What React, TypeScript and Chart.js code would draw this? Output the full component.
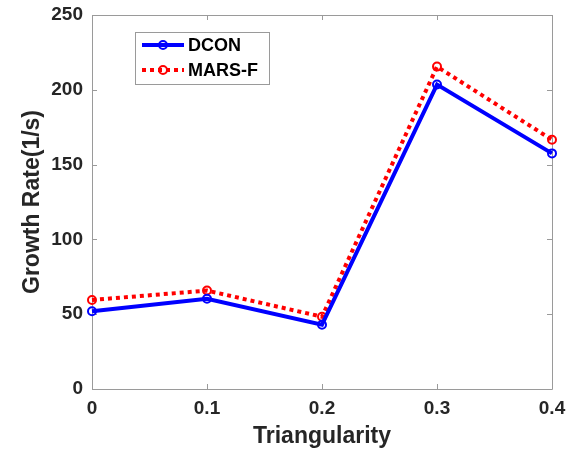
import React, { useEffect, useRef } from "react";
import { Chart, registerables } from "chart.js";

Chart.register(...registerables);

const triangularity = [0, 0.1, 0.2, 0.3, 0.4];
const dconValues = [52, 60.3, 43, 203.5, 157.5];
const marsfValues = [59.5, 65.8, 48.3, 215.5, 166.6];
const xTicks = [0, 0.1, 0.2, 0.3, 0.4];
const yTicks = [0, 50, 100, 150, 200, 250];
const seriesNames = ["DCON", "MARS-F"];

const FONT = '"Liberation Sans", Arial, Helvetica, sans-serif';
const FRAME = "#9a9a9a";
const TEXT = "#262626";

const framePlugin = {
  id: "frame",
  beforeDatasetsDraw(chart: any) {
    const { ctx, chartArea } = chart;
    const { left, right, top, bottom } = chartArea;
    const xs = chart.scales.x;
    const ys = chart.scales.y;
    ctx.save();
    ctx.strokeStyle = FRAME;
    ctx.lineWidth = 1;
    ctx.beginPath();
    ctx.rect(Math.round(left) + 0.5, Math.round(top) + 0.5, Math.round(right - left), Math.round(bottom - top));
    ctx.stroke();
    const tl = 5;
    ctx.beginPath();
    for (const v of xTicks) {
      const px = Math.round(xs.getPixelForValue(v)) + 0.5;
      ctx.moveTo(px, bottom);
      ctx.lineTo(px, bottom - tl);
      ctx.moveTo(px, top);
      ctx.lineTo(px, top + tl);
    }
    for (const v of yTicks) {
      const py = Math.round(ys.getPixelForValue(v)) + 0.5;
      ctx.moveTo(left, py);
      ctx.lineTo(left + tl, py);
      ctx.moveTo(right, py);
      ctx.lineTo(right - tl, py);
    }
    ctx.stroke();
    ctx.restore();
  },
};

const legendPlugin = {
  id: "boxLegend",
  afterDraw(chart: any) {
    const { ctx } = chart;
    ctx.save();
    const bx = 135.5, by = 32.5, bw = 134, bh = 52;
    ctx.fillStyle = "#ffffff";
    ctx.fillRect(bx, by, bw, bh);
    ctx.strokeStyle = FRAME;
    ctx.lineWidth = 1;
    ctx.strokeRect(bx, by, bw, bh);
    const rows = [
      { y: 45, color: "#0000ff", dash: [] as number[], name: seriesNames[0] },
      { y: 70, color: "#ff0000", dash: [4, 4], name: seriesNames[1] },
    ];
    for (const r of rows) {
      ctx.strokeStyle = r.color;
      ctx.lineWidth = 4;
      ctx.lineCap = "butt";
      ctx.setLineDash(r.dash);
      ctx.beginPath();
      ctx.moveTo(142, r.y);
      ctx.lineTo(184, r.y);
      ctx.stroke();
      ctx.setLineDash([]);
      ctx.lineWidth = 2;
      ctx.beginPath();
      ctx.arc(163, r.y, 4, 0, Math.PI * 2);
      ctx.stroke();
      ctx.fillStyle = "#000000";
      ctx.font = `bold 18px ${FONT}`;
      ctx.textBaseline = "middle";
      ctx.textAlign = "left";
      ctx.fillText(r.name, 188, r.y + 1);
    }
    ctx.restore();
  },
};

export default function App() {
  const ref = useRef<HTMLCanvasElement>(null);
  useEffect(() => {
    document.body.style.margin = "0";
    const canvas = ref.current;
    if (!canvas) return;
    const chart = new Chart(canvas, {
      type: "line",
      data: {
        datasets: [
          {
            label: seriesNames[0],
            data: triangularity.map((x, i) => ({ x, y: dconValues[i] })),
            borderColor: "#0000ff",
            borderWidth: 4,
            pointRadius: 4,
            pointBorderWidth: 2,
            pointBorderColor: "#0000ff",
            pointBackgroundColor: "rgba(0,0,0,0)",
            tension: 0,
            clip: false as any,
          },
          {
            label: seriesNames[1],
            data: triangularity.map((x, i) => ({ x, y: marsfValues[i] })),
            borderColor: "#ff0000",
            borderWidth: 4,
            borderDash: [4, 4],
            borderCapStyle: "butt",
            pointRadius: 4,
            pointBorderWidth: 2,
            pointBorderColor: "#ff0000",
            pointBackgroundColor: "rgba(0,0,0,0)",
            tension: 0,
            clip: false as any,
          },
        ],
      },
      options: {
        responsive: false,
        animation: false,
        layout: { padding: { top: 15, right: 23, left: 0, bottom: 0 } },
        plugins: { legend: { display: false }, tooltip: { enabled: false } },
        scales: {
          x: {
            type: "linear",
            min: 0,
            max: 0.4,
            afterFit: (s: any) => { s.height = 62; s.paddingLeft = 0; s.paddingRight = 0; },
            afterBuildTicks: (s: any) => { s.ticks = xTicks.map((v) => ({ value: v })); },
            grid: { display: false, drawTicks: false },
            border: { display: false },
            ticks: {
              padding: 8,
              color: TEXT,
              font: { family: FONT, size: 19, weight: "bold" },
              callback: (v: any) => String(Number(v)),
              maxRotation: 0,
            },
            title: {
              display: true,
              text: "Triangularity",
              color: TEXT,
              font: { family: FONT, size: 23, weight: "bold" },
              padding: { top: 0, bottom: 1 },
            },
          },
          y: {
            type: "linear",
            min: 0,
            max: 250,
            afterFit: (s: any) => { s.width = 92; s.paddingTop = 0; s.paddingBottom = 0; },
            afterBuildTicks: (s: any) => { s.ticks = yTicks.map((v) => ({ value: v })); },
            grid: { display: false, drawTicks: false },
            border: { display: false },
            ticks: {
              padding: 9,
              color: TEXT,
              font: { family: FONT, size: 19, weight: "bold" },
              callback: (v: any) => String(v),
            },
            title: {
              display: true,
              text: "Growth Rate(1/s)",
              color: TEXT,
              font: { family: FONT, size: 23, weight: "bold" },
              padding: { top: 19, bottom: 0 },
            },
          },
        },
      },
      plugins: [framePlugin, legendPlugin],
    } as any);
    return () => chart.destroy();
  }, []);
  return <canvas ref={ref} width={575} height={451} style={{ display: "block" }} />;
}
